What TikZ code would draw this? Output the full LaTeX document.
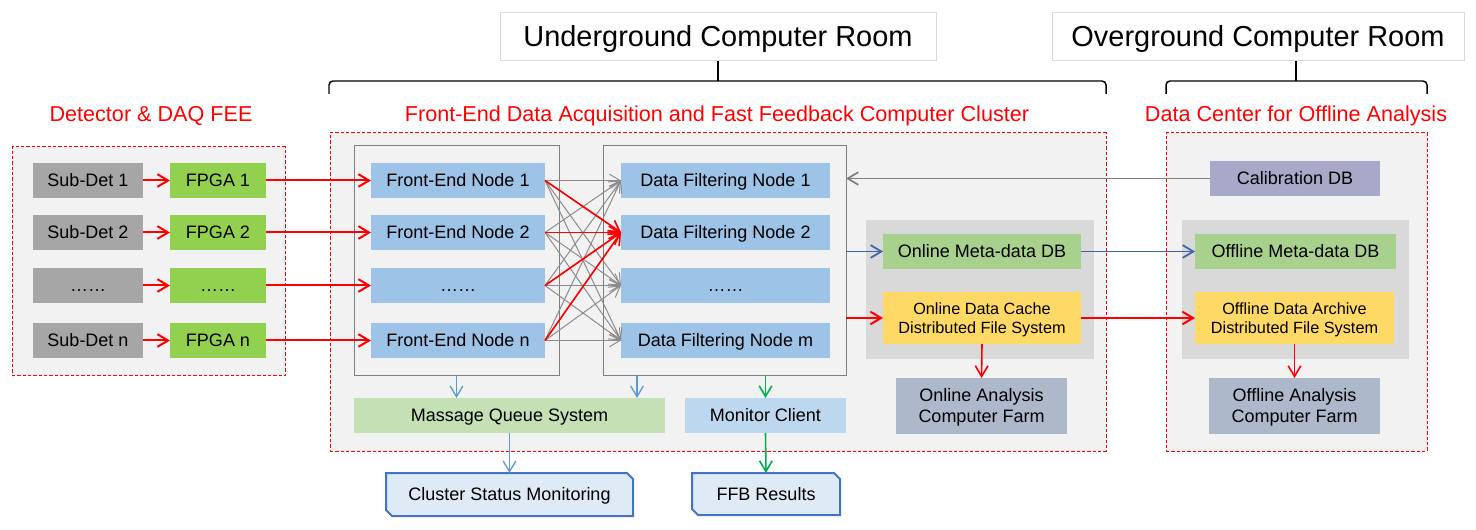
\documentclass[tikz,border=0pt]{standalone}
\usepackage{fontspec}
\setmainfont{Liberation Sans}
\usetikzlibrary{arrows.meta,backgrounds}
\definecolor{bgg}{HTML}{F2F2F2}
\definecolor{inner}{HTML}{D9D9D9}
\definecolor{sdgray}{HTML}{A6A6A6}
\definecolor{fpga}{HTML}{92D050}
\definecolor{nodeblue}{HTML}{9DC3E6}
\definecolor{contgray}{HTML}{7F7F7F}
\definecolor{calib}{HTML}{A8A8C8}
\definecolor{meta}{HTML}{A9D18E}
\definecolor{cache}{HTML}{FFD966}
\definecolor{farm}{HTML}{ADB9CA}
\definecolor{mqgreen}{HTML}{C5E0B4}
\definecolor{mcblue}{HTML}{BDD7EE}
\definecolor{outfill}{HTML}{DEEBF7}
\definecolor{outline}{HTML}{4472C4}
\definecolor{darkarr}{HTML}{3F62A8}
\definecolor{lightarr}{HTML}{5B9BD5}
\definecolor{grnarr}{HTML}{00B050}
\definecolor{crossgray}{HTML}{8C8C8C}
\definecolor{titlebd}{HTML}{D9D9D9}
\begin{document}
\begin{tikzpicture}[x=0.75pt,y=-0.75pt,
  every node/.style={font=\fontsize{13.5}{15.75}\selectfont, text=black},
  rect/.style n args={4}{inner sep=0pt, outer sep=0pt, align=center,
     minimum width={(#3-#1)*0.75pt}, minimum height={(#4-#2)*0.75pt},
     at={({(#1+#3)/2},{(#2+#4)/2})}},
  one/.style={text height=12.3pt, text depth=3pt},
  two/.style={text height=28pt, text depth=3pt},
  twosmall/.style={font=\fontsize{12.2}{14.3}\selectfont, text height=25.4pt, text depth=2.7pt},
  frame/.style={draw=red, dash pattern=on 2.5pt off 1.5pt, line width=0.75pt, fill=bgg},
  container/.style={draw=contgray, line width=0.75pt, fill=bgg},
  tip/.style={-{Straight Barb[length=8pt,width=9.5pt]}},
  redarr/.style={tip, draw=red, line width=1.5pt},
  redthin/.style={tip, draw=red, line width=1.2pt},
  grayarr/.style={tip, draw=crossgray, line width=0.75pt},
  calarr/.style={tip, draw=contgray, line width=1.3pt},
  darkblue/.style={tip, draw=darkarr, line width=1.3pt},
  lightblue/.style={tip, draw=lightarr, line width=1pt},
  greenarr/.style={tip, draw=grnarr, line width=1.2pt},
  redlabel/.style={text=red, font=\fontsize{16.2}{19}\selectfont, text height=14.7pt, text depth=3.6pt},
  titlebox/.style={draw=titlebd, line width=0.75pt, fill=white, font=\fontsize{21.7}{25}\selectfont, text height=19.75pt, text depth=4.8pt},
  brace/.style={draw=black, line width=1.1pt, rounded corners=3pt},
  chamf/.style={draw=outline, line width=1.5pt, fill=outfill}
]
\useasboundingbox (0,0) rectangle (1476,530);

% titles and braces
\node[rect={500}{13}{936}{61}, titlebox] (under) {Underground Computer Room};
\node[rect={1052}{13}{1464}{61}, titlebox] (over) {Overground Computer Room};
\coordinate (ubl) at (329,94);
\coordinate (ubr) at (1106,94);
\coordinate (obl) at (1166,94);
\coordinate (obr) at (1427,94);
\coordinate (obt) at (1296,61);
\draw[brace] (ubl) |- (under.south |- 0,81) -| (ubr);
\draw[brace] (under.south |- 0,81) -- (under.south);
\draw[brace] (obl) |- (obt |- 0,81) -| (obr);
\draw[brace] (obt |- 0,81) -- (obt);

\node[redlabel] (lab1) at (151,114) {Detector \& DAQ FEE};
\node[redlabel] (lab2) at (717,114) {Front-End Data Acquisition and Fast Feedback Computer Cluster};
\node[redlabel] (lab3) at (1296,114) {Data Center for Offline Analysis};

% frames
\node[frame, rect={12}{147}{285}{376}] (fl) {};
\node[frame, rect={330}{133}{1106}{451}] (fm) {};
\node[frame, rect={1166}{133}{1427}{451}] (fr) {};

\node[container, rect={354}{146}{559}{376}] (fec) {};
\node[container, rect={603}{146}{846}{376}] (dfc) {};
\node[fill=inner, rect={866}{220}{1094}{359}] (onbg) {};
\node[fill=inner, rect={1182}{220}{1409}{359}] (offbg) {};

% rows
\foreach \i/\ya/\yb/\s/\f/\e/\d in {1/163/198/Sub-Det 1/FPGA 1/Front-End Node 1/Data Filtering Node 1,
  2/215/250/Sub-Det 2/FPGA 2/Front-End Node 2/Data Filtering Node 2,
  3/268/303/……/……/……/……,
  4/323/358/Sub-Det n/FPGA n/Front-End Node n/Data Filtering Node m} {
  \node[fill=sdgray, rect={33}{\ya}{143}{\yb}, one] (sd\i) {\s};
  \node[fill=fpga, rect={170}{\ya}{266}{\yb}, one] (fp\i) {\f};
  \node[fill=nodeblue, rect={371}{\ya}{545}{\yb}, one] (fe\i) {\e};
  \node[fill=nodeblue, rect={621}{\ya}{830}{\yb}, one] (df\i) {\d};
}

% right side nodes
\node[fill=calib, rect={1210}{161}{1380}{196}, one] (cal) {Calibration DB};
\node[fill=meta, rect={883}{234}{1081}{269}, one] (onmeta) {Online Meta-data DB};
\node[fill=cache, rect={883}{292}{1081}{344}, twosmall] (oncache) {Online Data Cache\\Distributed File System};
\node[fill=farm, rect={896}{378}{1067}{434}, two] (onfarm) {Online Analysis\\Computer Farm};
\node[fill=meta, rect={1195}{234}{1396}{269}, one] (offmeta) {Offline Meta-data DB};
\node[fill=cache, rect={1195}{292}{1394}{344}, twosmall] (offarch) {Offline Data Archive\\Distributed File System};
\node[fill=farm, rect={1209}{378}{1380}{434}, two] (offfarm) {Offline Analysis\\Computer Farm};

% bottom nodes
\node[fill=mqgreen, rect={354}{398}{665}{433}, one] (mq) {Massage Queue System};
\node[fill=mcblue, rect={685}{398}{846}{433}, one] (mc) {Monitor Client};
\node[rect={386}{473}{633}{516}, one] (csm) {Cluster Status Monitoring};
\node[rect={692}{473}{840}{515}, one] (ffb) {FFB Results};
\begin{scope}[on background layer]
\foreach \n in {csm,ffb} {
  \path[chamf] (\n.north west) -- ([xshift=-4.5pt]\n.north east) -- ([yshift=-4.5pt]\n.north east)
    -- (\n.south east) -- ([xshift=4.5pt]\n.south west) -- ([yshift=4.5pt]\n.south west) -- cycle;
}
\end{scope}

% arrows left
\foreach \i in {1,...,4} {
  \draw[redarr] (sd\i) -- (fp\i);
  \draw[redarr] (fp\i) -- (fe\i);
  \foreach \j in {1,...,4} { \draw[grayarr] (fe\i.east) -- (df\j.west); }
}
\foreach \i in {1,...,4} { \draw[redthin] (fe\i.east) -- (df2.west); }

% right arrows
\draw[calarr] (cal.west) -- (cal.west -| dfc.east);
\draw[darkblue] (onmeta.west -| dfc.east) -- (onmeta.west);
\draw[darkblue] (onmeta.east) -- (offmeta.west);
\draw[redarr] (oncache.west -| dfc.east) -- (oncache.west);
\draw[redarr] (oncache.east) -- (offarch.west);
\draw[redthin] (oncache.south) -- (onfarm.north);
\draw[redthin] (offarch.south) -- (offfarm.north);

% bottom arrows
\coordinate (d1) at (637,376);
\draw[lightblue] (fec.south) -- (fec.south |- mq.north);
\draw[lightblue] (d1) -- (d1 |- mq.north);
\draw[greenarr] (mc.north |- dfc.south) -- (mc.north);
\draw[lightblue] (mq.south) -- (csm.north);
\draw[greenarr] (mc.south) -- (ffb.north);
\end{tikzpicture}
\end{document}
